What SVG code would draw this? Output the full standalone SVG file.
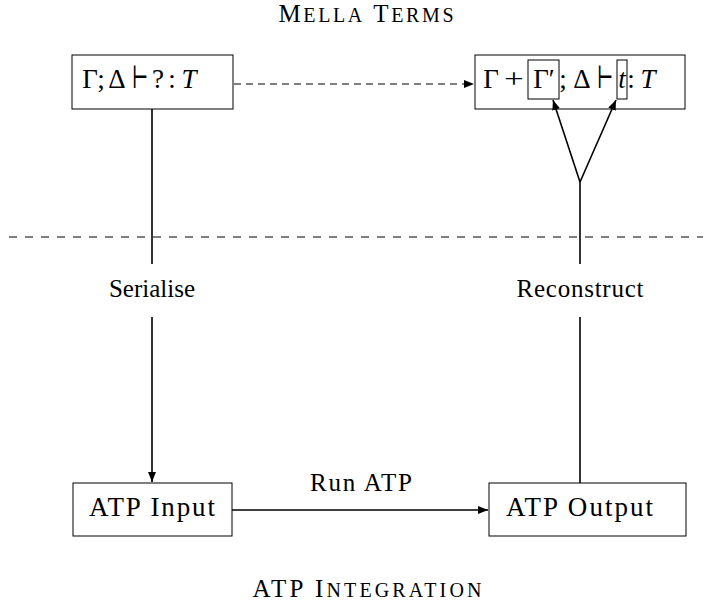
<svg xmlns="http://www.w3.org/2000/svg" width="709" height="606" viewBox="0 0 709 606">
<style>
text{font-family:"Liberation Serif","DejaVu Serif",serif;fill:#000}
.node{fill:#fff;stroke:#000;stroke-width:1}
.m{font-size:27px;text-anchor:middle}
.ts{font-size:31px;text-anchor:middle;font-family:"DejaVu Serif",serif}
.i{font-style:italic}
.nt{font-size:27px;text-anchor:middle}
.lbl{font-size:25px;text-anchor:middle}
.title{font-size:25px;text-anchor:middle}
.sc{font-size:20px}
.edge{fill:none;stroke:#000;stroke-width:1.6}
.dash{fill:none;stroke:#000;stroke-width:1;stroke-dasharray:7,5}
.div{fill:none;stroke:#000;stroke-width:1;stroke-dasharray:8,8}
</style>
<defs>
<marker id="ah" markerUnits="userSpaceOnUse" markerWidth="12" markerHeight="10" refX="10" refY="4" orient="auto">
<path d="M0,0 L10,4 L0,8 Z" fill="#000"/>
</marker>
</defs>
<text class="title" x="366" y="22" textLength="175" lengthAdjust="spacing">M<tspan class="sc">ELLA</tspan> T<tspan class="sc">ERMS</tspan></text>
<text class="title" x="367" y="597" textLength="229" lengthAdjust="spacing">ATP I<tspan class="sc">NTEGRATION</tspan></text>
<g id="goal">
<rect class="node" x="72" y="55" width="161" height="54"/>
<text class="m" x="90" y="88">Γ</text>
<text class="m" x="101" y="88">;</text>
<text class="m" x="117" y="88">Δ</text>
<text class="ts" transform="translate(140,88) scale(0.62,1)" x="0" y="0">⊢</text>
<text class="m" x="158" y="88">?</text>
<text class="m" x="172" y="88">:</text>
<text class="m i" x="189" y="88">T</text>
</g>
<g id="result">
<rect class="node" x="475" y="55" width="210" height="54"/>
<text class="m" x="491" y="88">Γ</text>
<text class="m" transform="translate(514,88) scale(1.3,1)" x="0" y="0">+</text>
<rect class="node" x="528" y="60" width="31" height="39"/>
<text class="m" x="544" y="88">Γ′</text>
<text class="m" x="563" y="88">;</text>
<text class="m" x="582" y="88">Δ</text>
<text class="ts" transform="translate(605,88) scale(0.62,1)" x="0" y="0">⊢</text>
<rect class="node" x="617" y="60" width="10" height="39"/>
<text class="m i" x="622" y="88">t</text>
<text class="m" x="631" y="88">:</text>
<text class="m i" x="648" y="88">T</text>
</g>
<g id="input">
<rect class="node" x="73" y="483" width="159" height="53"/>
<text class="nt" x="152" y="516" textLength="126" lengthAdjust="spacing">ATP Input</text>
</g>
<g id="output">
<rect class="node" x="489" y="483" width="197" height="53"/>
<text class="nt" x="579.5" y="516" textLength="147" lengthAdjust="spacing">ATP Output</text>
</g>
<g id="connectors">
<line class="div" x1="9" y1="237" x2="703" y2="237"/>
<line class="dash" x1="234" y1="84" x2="474" y2="84" marker-end="url(#ah)"/>
<line class="edge" x1="152" y1="109" x2="152" y2="264"/>
<line class="edge" x1="152" y1="317" x2="152" y2="482" marker-end="url(#ah)"/>
<text class="lbl" x="152" y="297">Serialise</text>
<line class="edge" x1="232" y1="510" x2="488" y2="510" marker-end="url(#ah)"/>
<text class="lbl" x="361" y="491" textLength="102" lengthAdjust="spacing">Run ATP</text>
<line class="edge" x1="580" y1="483" x2="580" y2="317"/>
<text class="lbl" x="580" y="297" textLength="127" lengthAdjust="spacing">Reconstruct</text>
<line class="edge" x1="580" y1="264" x2="580" y2="182"/>
<line class="edge" x1="580" y1="182" x2="553" y2="100" marker-end="url(#ah)"/>
<line class="edge" x1="580" y1="182" x2="616" y2="100" marker-end="url(#ah)"/>
</g>
</svg>
